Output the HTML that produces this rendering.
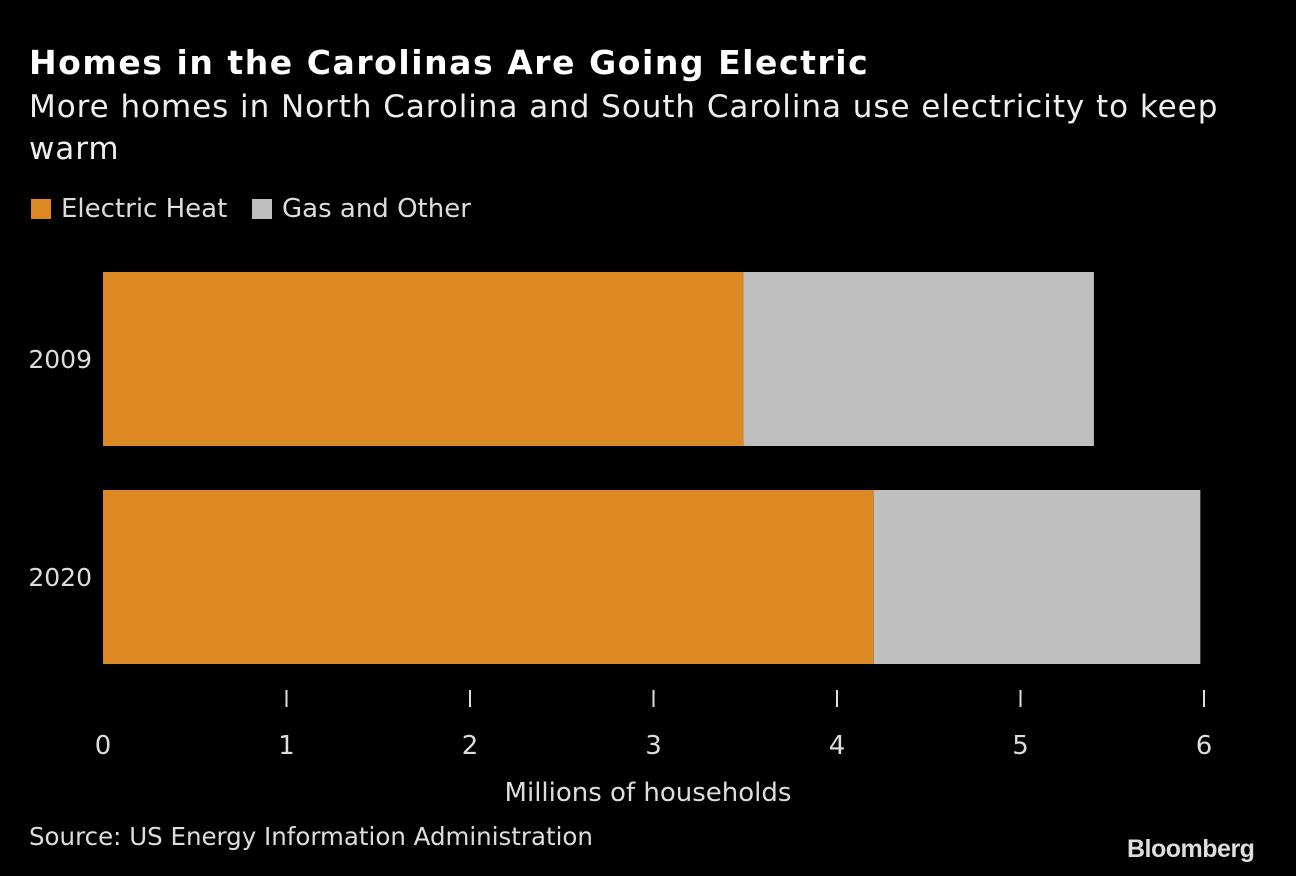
<!DOCTYPE html>
<html><head><meta charset="utf-8"><style>
body{margin:0;background:#000;width:1296px;height:876px;overflow:hidden;font-family:"DejaVu Sans","Liberation Sans",sans-serif;color:#fff}
.t{position:absolute;white-space:nowrap}
</style></head><body>
<div class="t" style="left:29px;top:43px;font-size:33px;font-weight:bold;letter-spacing:1.55px">Homes in the Carolinas Are Going Electric</div>
<div class="t" style="left:29px;top:86px;font-size:31px;line-height:42px;color:#eee;letter-spacing:0.95px">More homes in North Carolina and South Carolina use electricity to keep<br>warm</div>
<div>
<div class="t" style="left:31px;top:194px;font-size:26px;color:#ddd"><span style="display:inline-block;width:20px;height:20px;background:#dc8924;vertical-align:-2px;margin-right:10px"></span>Electric Heat</div>
<div class="t" style="left:252px;top:194px;font-size:26px;color:#ddd"><span style="display:inline-block;width:20px;height:20px;background:#bfbfbf;vertical-align:-2px;margin-right:10px"></span>Gas and Other</div>
</div>
<svg id="c" width="1296" height="876" style="position:absolute;left:0;top:0;font-family:'DejaVu Sans',sans-serif"></svg>
<div class="t" style="left:29px;top:822px;font-size:24.5px;color:#ddd">Source: US Energy Information Administration</div>
<div class="t" style="left:1127px;top:835px;font-family:'Liberation Sans',sans-serif;font-size:25px;font-weight:bold;color:#ddd;letter-spacing:-0.5px">Bloomberg</div>
<script>
const categories=["2009","2020"];
const electric=[3.49,4.2];
const gas=[1.91,1.78];
const ticks=[0,1,2,3,4,5,6];
const NS="http://www.w3.org/2000/svg";
const svg=document.getElementById('c');
const x=v=>103+v*183.5;
const y=i=>272+i*218;
const bh=174;
function mk(t,a){const e=document.createElementNS(NS,t);for(const k in a)e.setAttribute(k,a[k]);svg.appendChild(e);return e;}
categories.forEach((c,i)=>{
 let r=mk('rect',{x:x(0),y:y(i),width:x(electric[i])-x(0),height:bh,fill:'#dc8924'});
 
 
 r=mk('rect',{x:x(electric[i]),y:y(i),width:x(electric[i]+gas[i])-x(electric[i]),height:bh,fill:'#bfbfbf'});
 
 
 const t=mk('text',{x:92,y:y(i)+bh/2+9,'text-anchor':'end','font-size':25,fill:'#ddd'});
 t.textContent=c;
 
 
});
ticks.forEach(v=>{
 if(v>0){const l=mk('line',{x1:x(v),x2:x(v),y1:690,y2:707,stroke:'#ddd','stroke-width':2});
 
 }
 const t=mk('text',{x:x(v),y:754,'text-anchor':'middle','font-size':26,fill:'#ddd'});
 t.textContent=v;
 
 
});
const at=mk('text',{x:648,y:801,'text-anchor':'middle','font-size':26,fill:'#ddd'});
at.textContent='Millions of households';


</script>
</body></html>
